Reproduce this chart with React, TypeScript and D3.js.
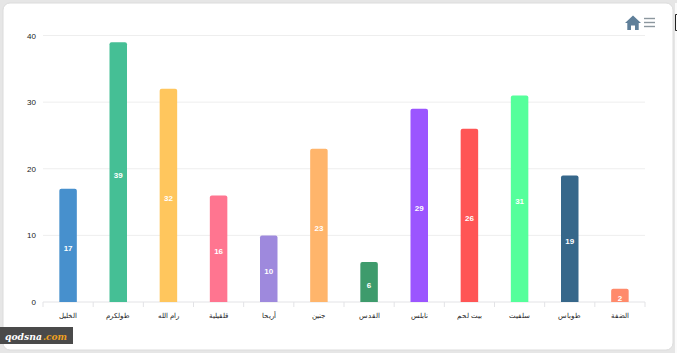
import React from "react";
import * as d3 from "d3";

const categories = ["الخليل", "طولكرم", "رام الله", "قلقيلية", "أريحا", "جنين", "القدس", "نابلس", "بيت لحم", "سلفيت", "طوباس", "الضفة"];
const values = [17, 39, 32, 16, 10, 23, 6, 29, 26, 31, 19, 2];
const colors = ["#4790cd", "#45bf95", "#ffc65d", "#ff7590", "#9e89dd", "#ffb56b", "#3e9b6c", "#9b55ff", "#ff5555", "#55ff9b", "#36678a", "#ff8a6b"];
const yTicks = [0, 10, 20, 30, 40];

const W = 677, H = 353;
const font = "Arial, 'Liberation Sans', sans-serif";

export default function App() {
  const x = d3.scaleBand<string>().domain(categories).range([43, 645]);
  const y = d3.scaleLinear().domain([0, 40]).range([302, 35.5]);
  const barW = 17.5;
  const barPath = (v: number, cx: number) => {
    const l = cx - barW / 2, t = y(v), b = y(0), r = 2;
    const p = d3.path();
    p.moveTo(l, b);
    p.lineTo(l, t + r);
    p.quadraticCurveTo(l, t, l + r, t);
    p.lineTo(l + barW - r, t);
    p.quadraticCurveTo(l + barW, t, l + barW, t + r);
    p.lineTo(l + barW, b);
    p.closePath();
    return p.toString();
  };
  const mark = { fontFamily: "'DejaVu Serif', serif", fontWeight: 700, fontStyle: "italic", fontSize: 10 } as const;
  return (
    <svg width={W} height={H} style={{ position: "fixed", left: 0, top: 0, display: "block" }} fontFamily={font}>
      <rect width={W} height={H} fill="#e6e6e6" />
      <rect x={3} y={3} width={670} height={347} rx={7} fill="#fff" stroke="#dcdcdc" />
      <rect x={675} y={3} width={2} height={H} fill="#fbfbfb" />
      <path d="M677 14.5 H675.5 V30.5 H677" fill="none" stroke="#222" strokeWidth={1} />
      {yTicks.map((t) => (
        <g key={t}>
          <line x1={43} x2={645} y1={y(t)} y2={y(t)} stroke={t === 0 ? "#e3e3e6" : "#eeeeee"} />
          <text x={36} y={y(t) + 3} textAnchor="end" fontSize={8} fill="#222">{t}</text>
        </g>
      ))}
      {[...categories.map((c) => x(c) as number), 645].map((px, i) => (
        <line key={i} x1={px} x2={px} y1={302} y2={307} stroke="#e3e3e6" />
      ))}
      {categories.map((c, i) => {
        const cx = (x(c) as number) + x.bandwidth() / 2;
        return (
          <g key={c}>
            <path d={barPath(values[i], cx)} fill={colors[i]} />
            <text x={cx} y={(y(values[i]) + y(0)) / 2 + 5.5} textAnchor="middle" fontSize={8} fontWeight={700} fill="#fff">{values[i]}</text>
            <text x={cx} y={318} textAnchor="middle" fontSize={6.8} fill="#222" direction="rtl">{c}</text>
          </g>
        );
      })}
      <path d="M633 15.5 L641 23 L638.7 23 L638.7 30 L635 30 L635 25.5 L631 25.5 L631 30 L627.3 30 L627.3 23 L625 23 Z" fill="#5f7f99" />
      {[19, 23, 27].map((ly) => (
        <line key={ly} x1={644} x2={655} y1={ly - 0.5} y2={ly - 0.5} stroke="#8c979e" strokeWidth={1.4} />
      ))}
      <rect x={0} y={327} width={73} height={17} fill="#4a4a4a" />
      <text x={5} y={340} textLength={37} lengthAdjust="spacingAndGlyphs" fill="#fff" {...mark}>qodsna</text>
      <text x={43} y={340} textLength={24} lengthAdjust="spacingAndGlyphs" fill="#f0a020" {...mark}>.com</text>
    </svg>
  );
}
